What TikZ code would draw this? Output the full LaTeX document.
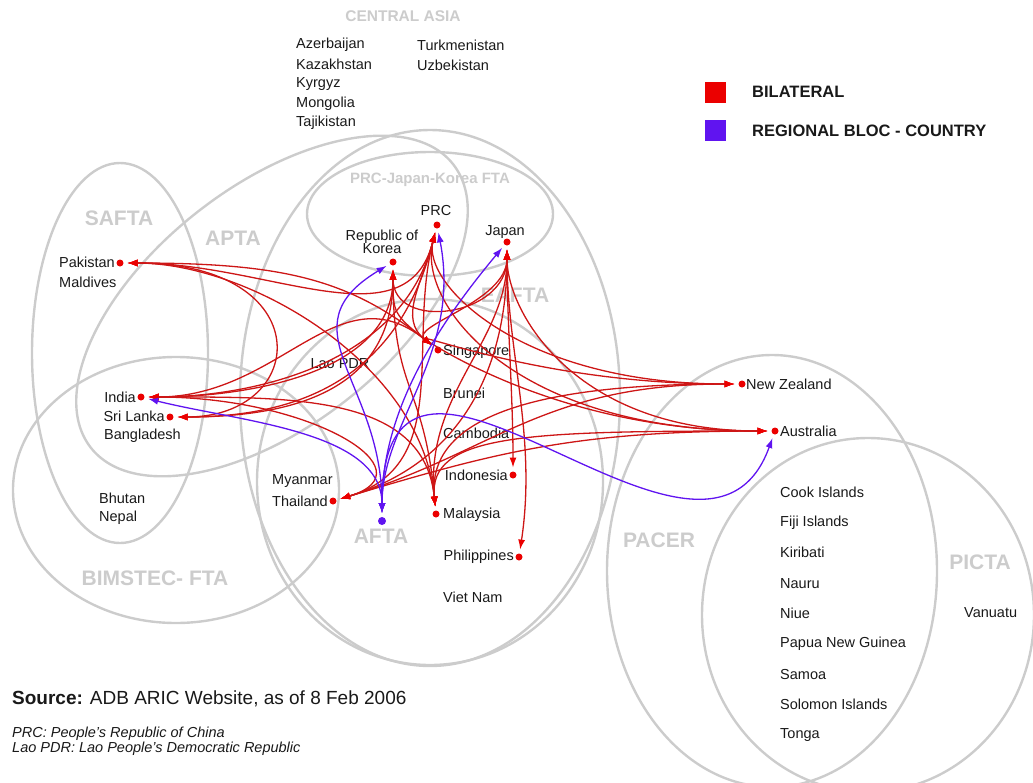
\documentclass[tikz,border=0pt]{standalone}
\usepackage{fontspec}
\setmainfont{Liberation Sans}
\usetikzlibrary{arrows.meta}

\definecolor{ringgray}{RGB}{204,204,204}
\definecolor{bilred}{RGB}{205,22,22}
\definecolor{tipred}{RGB}{235,0,0}
\definecolor{blocviolet}{RGB}{96,20,240}
\definecolor{inkgray}{RGB}{25,25,25}

\tikzset{
  ring/.style={draw=ringgray, line width=2.4pt},
  groupname/.style={text=ringgray, font=\fontsize{21}{21}\selectfont\bfseries, inner sep=0pt},
  cty/.style={text=inkgray, font=\fontsize{14.5}{13}\selectfont, inner sep=0pt},
  reddot/.style={circle, fill=tipred, inner sep=0pt, minimum size=7pt, outer sep=4pt},
  bluedot/.style={circle, fill=blocviolet, inner sep=0pt, minimum size=8pt, outer sep=4pt},
  bil/.style={draw=bilred, line width=1.3pt,
    arrows={Latex[length=10pt,width=7pt,color=tipred]-Latex[length=10pt,width=7pt,color=tipred]}},
  reg/.style={draw=blocviolet, line width=1.3pt,
    arrows={Latex[length=10pt,width=7pt]-Latex[length=10pt,width=7pt]}},
}

\begin{document}
\begin{tikzpicture}[x=1pt, y=-1pt]
  \useasboundingbox (0,0) rectangle (1033,782);

  % trade blocs
  \draw[ring] (120,353) ellipse (88 and 190);
  \draw[ring, rotate around={38:(272,306)}] (272,306) ellipse (230 and 120);
  \draw[ring] (176,490) ellipse (163 and 133);
  \draw[ring] (430,398) ellipse (190 and 268);
  \draw[ring] (430,214) ellipse (123 and 62);
  \draw[ring] (430,482) ellipse (173 and 183);
  \draw[ring] (772,571) ellipse (165 and 216);
  \draw[ring] (868,615) ellipse (166 and 177);

  \node[groupname] (safta) at (119,218) {SAFTA};
  \node[groupname] (apta) at (233,238) {APTA};
  \node[groupname] (eafta) at (515,295) {EAFTA};
  \node[groupname] (afta-t) at (381,536) {AFTA};
  \node[groupname] (bimstec) at (155,578) {BIMSTEC- FTA};
  \node[groupname] (pacer) at (659,540) {PACER};
  \node[groupname] (picta) at (980,562) {PICTA};
  \node[groupname, font=\fontsize{15}{15}\selectfont\bfseries] (pjk) at (430,180) {PRC-Japan-Korea FTA};
  \node[groupname, font=\fontsize{15.5}{15}\selectfont\bfseries] (casia) at (403,16) {CENTRAL ASIA};

  \foreach \ca [count=\k from 0] in {Azerbaijan, Kazakhstan, Kyrgyz, Mongolia, Tajikistan}
    \node[cty, anchor=west] (ca\k) at (296,{45+19.5*\k}) {\ca};
  \node[cty, anchor=west] (ca5) at (417,45) {Turkmenistan};
  \node[cty, anchor=west] (ca6) at (417,65) {Uzbekistan};

  % countries
  \node[reddot] (pak) at (120,263) {};
  \node[reddot] (ind) at (141,397) {};
  \node[reddot] (slk) at (170,417) {};
  \node[reddot] (kor) at (393,262) {};
  \node[reddot] (prc) at (437,225) {};
  \node[reddot] (jpn) at (507,242) {};
  \node[reddot] (sgp) at (438,350) {};
  \node[reddot] (ido) at (513,475) {};
  \node[reddot] (mys) at (436,514) {};
  \node[reddot] (phl) at (519,557) {};
  \node[reddot] (tha) at (333,501) {};
  \node[bluedot] (afta) at (382,521) {};
  \node[reddot] (nzl) at (742,384) {};
  \node[reddot] (aus) at (775,431) {};

  \node[cty, anchor=east] (pak-t) at (115,262) {Pakistan};
  \node[cty, anchor=west] (mdv-t) at (59,282) {Maldives};
  \node[cty, anchor=east] (ind-t) at (136,397) {India};
  \node[cty, anchor=east] (slk-t) at (165,416) {Sri Lanka};
  \node[cty, anchor=west] (bgd-t) at (104,436) {Bangladesh};
  \node[cty, anchor=west] (btn-t) at (99,498) {Bhutan};
  \node[cty, anchor=west] (npl-t) at (99,518) {Nepal};
  \node[cty, align=center] (kor-t) at (382,242) {Republic of\\Korea};
  \node[cty] (prc-t) at (436,211) {PRC};
  \node[cty] (jpn-t) at (505,232) {Japan};
  \node[cty, anchor=west] (sgp-t) at (443,352) {Singapore};
  \node[cty] (lao-t) at (340,364) {Lao PDR};
  \node[cty, anchor=west] (brn-t) at (443,393) {Brunei};
  \node[cty, anchor=west] (khm-t) at (443,433) {Cambodia};
  \node[cty, anchor=east] (ido-t) at (508,475) {Indonesia};
  \node[cty, anchor=west] (mys-t) at (443,515) {Malaysia};
  \node[cty, anchor=east] (phl-t) at (514,557) {Philippines};
  \node[cty, anchor=west] (vnm-t) at (443,597) {Viet Nam};
  \node[cty, anchor=west] (mmr-t) at (272,481) {Myanmar};
  \node[cty, anchor=east] (tha-t) at (328,501) {Thailand};
  \node[cty, anchor=west] (nzl-t) at (746,384) {New Zealand};
  \node[cty, anchor=west] (aus-t) at (780,431) {Australia};
  \node[cty, anchor=west] (vut-t) at (964,613) {Vanuatu};
  \foreach \isl [count=\k from 0] in {Cook Islands, Fiji Islands, Kiribati, Nauru, Niue, Papua New Guinea, Samoa, Solomon Islands, Tonga}
    \node[cty, anchor=west] (isl\k) at (780,{492+30.4*\k}) {\isl};

  % bilateral agreements
  \draw[bil] (pak) .. controls +(150,0) and +(-30,120) .. (prc);
  \draw[bil] (pak) .. controls +(160,0) and +(-90,-72) .. (sgp);
  \draw[bil] (pak) .. controls +(130,0) and +(-15,-150) .. (mys);
  \draw[bil] (pak) .. controls +(200,0) and +(140,0) .. (slk);
  \draw[bil] (ind) .. controls +(110,0) and +(-35,140) .. (prc);
  \draw[bil] (ind) .. controls +(110,0) and +(0,110) .. (kor);
  \draw[bil] (ind) .. controls +(140,0) and +(-100,-80) .. (sgp);
  \draw[bil] (ind) .. controls +(170,0) and +(100,-30) .. (tha);
  \draw[bil] (ind) .. controls +(150,0) and +(-12,-120) .. (mys);
  \draw[bil] (slk) .. controls +(120,0) and +(-40,160) .. (prc);
  \draw[bil] (slk) .. controls +(120,0) and +(0,130) .. (kor);
  \draw[bil] (kor) .. controls +(0,50) and +(-45,-36) .. (sgp);
  \draw[bil] (kor) .. controls +(0,70) and +(0,75) .. (jpn);
  \draw[bil] (kor) .. controls +(0,130) and +(-12,-130) .. (mys);
  \draw[bil] (prc) .. controls +(-30,120) and +(120,-36) .. (tha);
  \draw[bil] (prc) .. controls +(-15,60) and +(-40,-32) .. (sgp);
  \draw[bil] (prc) .. controls +(-15,60) and +(-220,0) .. (nzl);
  \draw[bil] (prc) .. controls +(-20,80) and +(-260,0) .. (aus);
  \draw[bil] (jpn) .. controls +(0,60) and +(-30,-24) .. (sgp);
  \draw[bil] (jpn) .. controls +(0,100) and +(-12,-120) .. (mys);
  \draw[bil] (jpn) .. controls +(0,110) and +(140,-42) .. (tha);
  \draw[bil] (jpn) .. controls +(0,80) and +(0,-80) .. (ido);
  \draw[bil] (jpn) .. controls +(0,110) and +(18,-120) .. (phl);
  \draw[bil] (jpn) .. controls +(0,70) and +(-200,0) .. (aus);
  \draw[bil] (sgp) .. controls +(-25,-20) and +(-200,0) .. (nzl);
  \draw[bil] (sgp) .. controls +(-25,-20) and +(-230,0) .. (aus);
  \draw[bil] (tha) .. controls +(160,-48) and +(-200,0) .. (nzl);
  \draw[bil] (tha) .. controls +(160,-48) and +(-200,0) .. (aus);
  \draw[bil] (mys) .. controls +(-8,-80) and +(-250,0) .. (nzl);
  \draw[bil] (mys) .. controls +(-8,-80) and +(-250,0) .. (aus);

  % regional bloc - country
  \draw[reg] (afta) .. controls +(0,-90) and +(100,25) .. (ind);
  \draw[reg] (afta) .. controls +(0,-140) and +(-110,66) .. (kor);
  \draw[reg] (afta) .. controls +(0,-100) and +(25,130) .. (prc);
  \draw[reg] (afta) .. controls +(0,-110) and +(-70,84) .. (jpn);
  \draw[reg] (afta) .. controls +(0,-270) and +(-72,200) .. (aus);

  % legend
  \fill[tipred] (705,82) rectangle (726,103);
  \fill[blocviolet] (705,120) rectangle (726,141);
  \node[cty, anchor=west, font=\fontsize{16.5}{16}\selectfont\bfseries] (leg1) at (752,92) {BILATERAL};
  \node[cty, anchor=west, font=\fontsize{16.5}{16}\selectfont\bfseries] (leg2) at (752,131) {REGIONAL BLOC - COUNTRY};

  % source
  \node[cty, anchor=west, font=\fontsize{19}{19}\selectfont] (src) at (12,699) {\textbf{Source:} ADB ARIC Website, as of 8 Feb 2006};
  \node[cty, anchor=north west, align=left, font=\fontsize{14.5}{13}\selectfont\itshape] (notes) at (12,727) {PRC: People's Republic of China\\Lao PDR: Lao People's Democratic Republic};
\end{tikzpicture}
\end{document}
